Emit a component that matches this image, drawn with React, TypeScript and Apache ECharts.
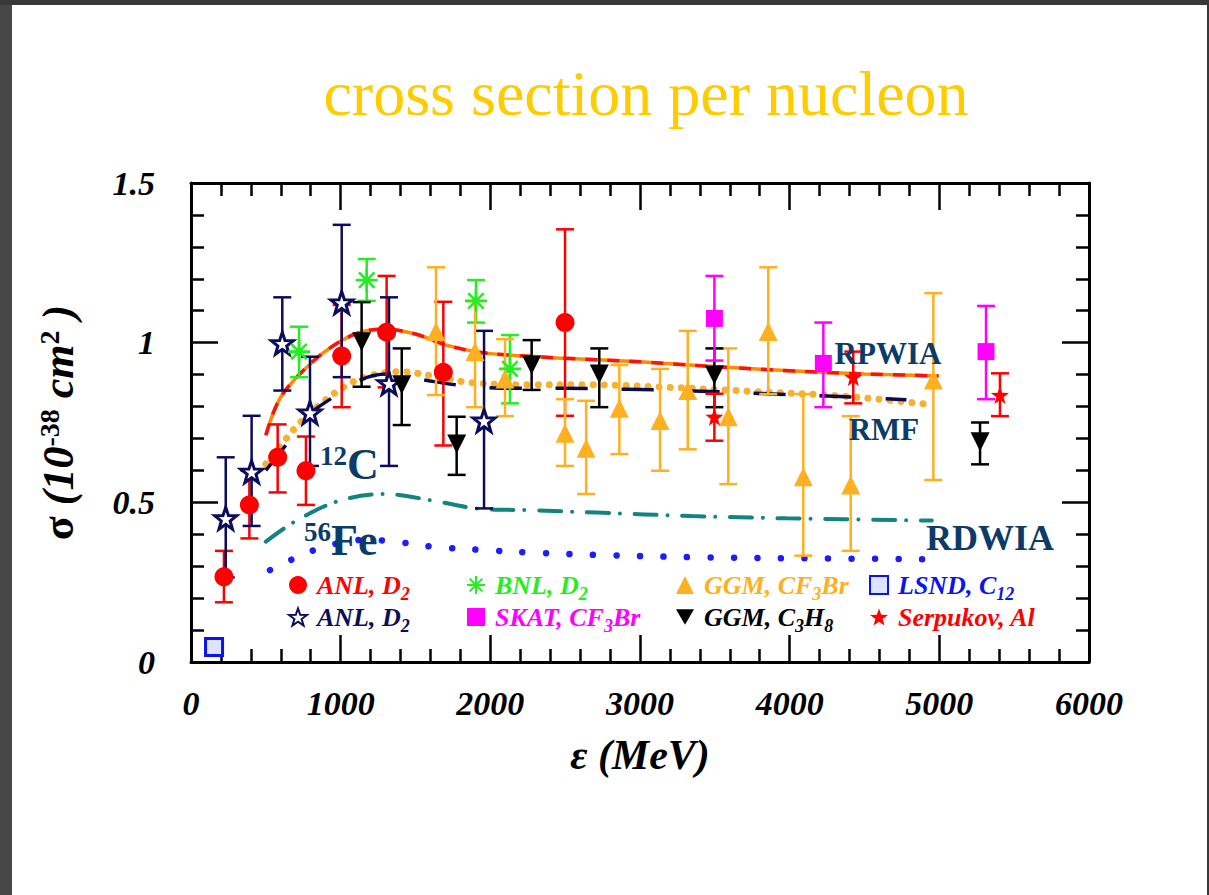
import React, { useEffect, useRef } from "react";
import * as echarts from "echarts";

const FONT = '"Liberation Serif", "Times New Roman", serif';

// ---- data: [energy MeV, sigma, lower, upper] ----
const anlCircle = [
  [220, 0.267, 0.187, 0.348],
  [390, 0.492, 0.387, 0.599],
  [579, 0.641, 0.531, 0.744],
  [768, 0.599, 0.492, 0.706],
  [1007, 0.958, 0.798, 1.118],
  [1307, 1.033, 0.86, 1.209],
  [1686, 0.907, 0.678, 1.128],
  [2499, 1.063, 0.771, 1.355],
];
const anlStar = [
  [232, 0.45, 0.265, 0.641],
  [405, 0.596, 0.426, 0.771],
  [610, 0.998, 0.85, 1.142],
  [795, 0.781, 0.614, 0.956],
  [1007, 1.126, 0.892, 1.369],
  [1323, 0.873, 0.614, 1.142],
  [1958, 0.756, 0.481, 1.037],
];
const bnl = [
  [722, 0.972, 0.892, 1.05],
  [1174, 1.196, 1.131, 1.262],
  [1904, 1.131, 1.063, 1.196],
  [2131, 0.918, 0.81, 1.024],
];
const ggmCF3Br = [
  [1637, 1.035, 0.836, 1.236],
  [1898, 0.972, 0.798, 1.13],
  [2098, 0.886, 0.77, 1.011],
  [2499, 0.716, 0.614, 0.823],
  [2640, 0.669, 0.526, 0.818],
  [2862, 0.795, 0.651, 0.93],
  [3134, 0.756, 0.599, 0.918],
  [3319, 0.85, 0.666, 1.037],
  [3590, 0.768, 0.557, 0.982],
  [3857, 1.035, 0.839, 1.236],
  [4091, 0.58, 0.333, 0.839],
  [4408, 0.554, 0.348, 0.77],
  [4960, 0.883, 0.57, 1.155],
];
const ggmC3H8 = [
  [1140, 1.003, 0.862, 1.127],
  [1408, 0.868, 0.742, 0.982],
  [1775, 0.683, 0.586, 0.768],
  [2276, 0.93, 0.852, 1.008],
  [2728, 0.902, 0.798, 0.982],
  [3497, 0.899, 0.798, 0.982],
  [5272, 0.69, 0.619, 0.75],
];
const skat = [
  [3497, 1.076, 0.944, 1.209],
  [4225, 0.935, 0.798, 1.063],
  [5312, 0.972, 0.823, 1.115],
];
const serpukov = [
  [3497, 0.768, 0.693, 0.84],
  [4425, 0.892, 0.81, 0.972],
  [5405, 0.836, 0.77, 0.904],
];
const lsnd = [[154, 0.047]];

// ---- theory curves: [energy MeV, sigma] ----
const rpwia = [
  [500, 0.71], [600, 0.83], [800, 0.935], [1000, 1.005], [1150, 1.035], [1300, 1.042],
  [1500, 1.027], [1700, 0.993], [1900, 0.972], [2100, 0.962], [2500, 0.951], [3000, 0.94],
  [3500, 0.925], [4000, 0.912], [4500, 0.902], [4995, 0.896],
];
const rmfDashed = [
  [500, 0.6], [635, 0.68], [770, 0.768], [940, 0.826], [1130, 0.883], [1307, 0.902],
  [1560, 0.883], [1775, 0.868], [2130, 0.857], [2465, 0.857], [2910, 0.854], [3355, 0.849],
  [3800, 0.841], [4250, 0.833], [4780, 0.821],
];
const rmfDotted = [
  [500, 0.62], [594, 0.674], [684, 0.727], [817, 0.789], [1007, 0.857], [1174, 0.894],
  [1386, 0.909], [1642, 0.894], [1864, 0.875], [2254, 0.868], [2644, 0.868], [3200, 0.86],
  [3757, 0.847], [4400, 0.831], [4960, 0.805],
];
const rdwia = [
  [500, 0.377], [695, 0.44], [985, 0.504], [1300, 0.526], [1620, 0.505], [1910, 0.481],
  [2300, 0.475], [2710, 0.468], [3345, 0.457], [3980, 0.45], [4950, 0.443],
];
const fe56 = [
  [528, 0.288], [679, 0.322], [828, 0.351], [1129, 0.382], [1301, 0.38], [1619, 0.361],
  [1942, 0.351], [2300, 0.342], [2733, 0.335], [3379, 0.328], [4002, 0.325], [4911, 0.322],
];

const xTicks = { min: 0, max: 6000, interval: 1000 };
const yTicks = { min: 0, max: 1.5, interval: 0.5 };

const C = {
  red: "#ff0000",
  navy: "#0c0c5c",
  green: "#22ee22",
  orange: "#ffb020",
  magenta: "#ff00ff",
  black: "#000000",
  blue: "#0a14f0",
  label: "#0b3b66",
};

const STAR = "path://M0,-10L2.35,-3.24L9.51,-3.09L3.8,1.24L5.88,8.09L0,4L-5.88,8.09L-3.8,1.24L-9.51,-3.09L-2.35,-3.24Z";
const ASTER = "path://M0,-10L0,10M-10,0L10,0M-7.07,-7.07L7.07,7.07M-7.07,7.07L7.07,-7.07";
const DOWN = "path://M-10,-8.66L10,-8.66L0,8.66Z";

function errRender(color: string) {
  return (params: any, api: any) => {
    const x = api.value(0);
    const top = api.coord([x, api.value(3)]);
    const bot = api.coord([x, api.value(2)]);
    const w = 9;
    const style = { stroke: color, lineWidth: 2.5 };
    return {
      type: "group",
      children: [
        { type: "line", shape: { x1: top[0], y1: top[1], x2: bot[0], y2: bot[1] }, style },
        { type: "line", shape: { x1: top[0] - w, y1: top[1], x2: top[0] + w, y2: top[1] }, style },
        { type: "line", shape: { x1: bot[0] - w, y1: bot[1], x2: bot[0] + w, y2: bot[1] }, style },
      ],
    };
  };
}

function errSeries(id: string, data: number[][], color: string) {
  return {
    type: "custom",
    name: id + "_err",
    data,
    renderItem: errRender(color),
    encode: { x: 0, y: [2, 3] },
    z: 3,
    silent: true,
  };
}

const legendNames: Record<string, string> = {
  anlC: "{r|ANL, D}{rs|2}",
  anlS: "{n|ANL, D}{ns|2}",
  bnl: "{g|BNL, D}{gs|2}",
  skat: "{m|SKAT, CF}{ms|3}{m|Br}",
  ggmA: "{o|GGM, CF}{os|3}{o|Br}",
  ggmB: "{k|GGM, C}{ks|3}{k|H}{ks|8}",
  lsnd: "{b|LSND, C}{bs|12}",
  serp: "{r|Serpukov, Al}{rs| }",
};

function rich() {
  const main = (color: string) => ({
    color, fontFamily: FONT, fontWeight: "bold", fontStyle: "italic", fontSize: 26,
  });
  const sub = (color: string) => ({
    color, fontFamily: FONT, fontWeight: "bold", fontStyle: "italic", fontSize: 18,
    padding: [18, 0, 0, 0],
  });
  const out: any = {};
  const map: Record<string, string> = {
    r: C.red, n: C.navy, g: C.green, m: C.magenta, o: C.orange, k: C.black, b: C.blue,
  };
  Object.keys(map).forEach((k) => {
    out[k] = main(map[k]);
    out[k + "s"] = sub(map[k]);
  });
  return out;
}

function legend(iconCenter: number, names: any[]) {
  return {
    orient: "vertical",
    left: iconCenter - 9,
    top: 567,
    itemWidth: 18,
    itemHeight: 18,
    itemGap: 1,
    selectedMode: false,
    data: names,
    formatter: (n: string) => legendNames[n],
    textStyle: { rich: rich(), padding: [0, 0, 0, 5] },
  };
}

const axisCommon = {
  axisLine: { show: true, onZero: false, lineStyle: { color: "#000", width: 3 } },
  axisTick: { show: true, inside: true, length: 27, lineStyle: { color: "#000", width: 2.5 } },
  minorTick: { show: true, splitNumber: 5, length: 13, lineStyle: { color: "#000", width: 2.5 } },
  splitLine: { show: false },
  minorSplitLine: { show: false },
};

const labelFont = {
  fontFamily: FONT, fontWeight: "bold", fontStyle: "italic", fontSize: 34, color: "#000",
};

export default function App() {
  const ref = useRef<HTMLDivElement>(null);
  useEffect(() => {
    if (!ref.current) return;
    const chart = echarts.init(ref.current, null, { renderer: "svg" });
    const line = (name: string, data: number[][], ls: any) => ({
      type: "line", name, data, showSymbol: false, symbol: "none", smooth: 0.35,
      lineStyle: ls, z: 2, silent: true,
    });
    const scatter = (name: string, data: number[][], symbol: string, size: number, itemStyle: any) => ({
      type: "scatter", name, data, encode: { x: 0, y: 1 }, z: 5, symbol, symbolSize: size,
      itemStyle: { opacity: 1, ...itemStyle },
    });
    const option: any = {
      animation: false,
      backgroundColor: "#ffffff",
      grid: { left: 191, top: 183, right: 120, bottom: 233 },
      xAxis: [
        {
          type: "value", ...xTicks, position: "bottom", ...axisCommon,
          axisLabel: { ...labelFont, margin: 24, formatter: (v: number) => String(v) },
          name: "ε (MeV)", nameLocation: "middle", nameGap: 72,
          nameTextStyle: { ...labelFont, fontSize: 42 },
        },
        {
          type: "value", ...xTicks, position: "top", ...axisCommon, axisLabel: { show: false },
        },
      ],
      yAxis: [
        {
          type: "value", ...yTicks, position: "left", ...axisCommon,
          axisLabel: { ...labelFont, margin: 36 },
          name: "{s|σ }{t|(10}{p|-38}{t| cm}{p|2}{t| )}",
          nameLocation: "middle", nameRotate: 90, nameGap: 110,
          nameTextStyle: {
            rich: {
              s: { fontFamily: FONT, fontWeight: "bold", fontSize: 44, color: "#000", lineHeight: 46 },
              t: { fontFamily: FONT, fontWeight: "bold", fontStyle: "italic", fontSize: 44, color: "#000", lineHeight: 46 },
              p: { fontFamily: FONT, fontWeight: "bold", fontSize: 28, color: "#000", lineHeight: 6, verticalAlign: "top" },
            },
          },
        },
        {
          type: "value", ...yTicks, position: "right", ...axisCommon, axisLabel: { show: false },
        },
      ],
      legend: [
        legend(292, ["anlC", "anlS"]),
        legend(470, ["bnl", "skat"]),
        legend(680, ["ggmA", "ggmB"]),
        legend(873, ["lsnd", "serp"]),
      ],
      graphic: [
        { type: "rect", shape: { x: 0, y: 0, width: 12, height: 895 }, style: { fill: "#474747" }, z: 100 },
        { type: "rect", shape: { x: 0, y: 0, width: 1209, height: 5 }, style: { fill: "#383838" }, z: 100 },
        { type: "rect", shape: { x: 1207, y: 0, width: 2, height: 895 }, style: { fill: "#383838" }, z: 100 },
        {
          type: "text", x: 646, y: 93,
          style: { text: "cross section per nucleon", fontFamily: FONT, fontSize: 64, fill: "#ffcc00", align: "center", verticalAlign: "middle" },
        },
        {
          type: "text", x: 888, y: 353,
          style: { text: "RPWIA", fontFamily: FONT, fontWeight: "bold", fontSize: 31, fill: C.label, align: "center", verticalAlign: "middle" },
          z: 10,
        },
        {
          type: "text", x: 884, y: 429,
          style: { text: "RMF", fontFamily: FONT, fontWeight: "bold", fontSize: 31, fill: C.label, align: "center", verticalAlign: "middle" },
          z: 10,
        },
        {
          type: "text", x: 990, y: 538,
          style: { text: "RDWIA", fontFamily: FONT, fontWeight: "bold", fontSize: 36, fill: C.label, align: "center", verticalAlign: "middle" },
          z: 10,
        },
        {
          type: "text", x: 320, y: 464,
          style: {
            text: "{p|12}{b|C}", align: "left", verticalAlign: "middle",
            rich: {
              p: { fontFamily: FONT, fontWeight: "bold", fontSize: 27, fill: C.label, color: C.label, lineHeight: 8, verticalAlign: "top" },
              b: { fontFamily: FONT, fontWeight: "bold", fontSize: 44, fill: C.label, color: C.label, lineHeight: 44 },
            },
          },
          z: 10,
        },
        {
          type: "text", x: 304, y: 540,
          style: {
            text: "{p|56}{b|Fe}", align: "left", verticalAlign: "middle",
            rich: {
              p: { fontFamily: FONT, fontWeight: "bold", fontSize: 27, fill: C.label, color: C.label, lineHeight: 8, verticalAlign: "top" },
              b: { fontFamily: FONT, fontWeight: "bold", fontSize: 44, fill: C.label, color: C.label, lineHeight: 44 },
            },
          },
          z: 10,
        },
      ],
      series: [
        line("rdwia", rdwia, { color: "#13847f", width: 4, type: [22, 11, 0.01, 14.7], cap: "round" }),
        line("fe56", fe56, { color: "#1c1cff", width: 6.5, type: [0.01, 23.5], cap: "round" }),
        line("rmfDotted", rmfDotted, { color: "#f6b032", width: 7, type: [0.01, 11], cap: "round" }),
        line("rmfDashed", rmfDashed, { color: "#0a0a50", width: 3.5, type: [32, 34] }),
        line("rpwiaSolid", rpwia, { color: "#ff8c00", width: 3.5, type: "solid" }),
        line("rpwiaDashed", rpwia, { color: "#ff1010", width: 3.5, type: [12, 10] }),
        errSeries("anlC", anlCircle, C.red),
        errSeries("anlS", anlStar, C.navy),
        errSeries("bnl", bnl, C.green),
        errSeries("ggmA", ggmCF3Br, C.orange),
        errSeries("ggmB", ggmC3H8, C.black),
        errSeries("skat", skat, C.magenta),
        errSeries("serp", serpukov, C.red),
        scatter("anlC", anlCircle, "circle", 19, { color: C.red }),
        scatter("anlS", anlStar, STAR, 22, { color: "#ffffff", borderColor: C.navy, borderWidth: 3 }),
        scatter("bnl", bnl, ASTER, 22, { color: "rgba(0,0,0,0)", borderColor: C.green, borderWidth: 2.6 }),
        scatter("ggmA", ggmCF3Br, "triangle", 19, { color: C.orange }),
        scatter("ggmB", ggmC3H8, DOWN, 19, { color: C.black }),
        scatter("skat", skat, "rect", 17, { color: C.magenta }),
        scatter("serp", serpukov, STAR, 18, { color: C.red }),
        scatter("lsnd", lsnd, "rect", 17, { color: "#dde4ff", borderColor: C.blue, borderWidth: 3 }),
      ],
    };
    chart.setOption(option);
    return () => chart.dispose();
  }, []);
  return (
    <div
      ref={ref}
      style={{ position: "fixed", left: 0, top: 0, width: 1209, height: 895, background: "#fff" }}
    />
  );
}
